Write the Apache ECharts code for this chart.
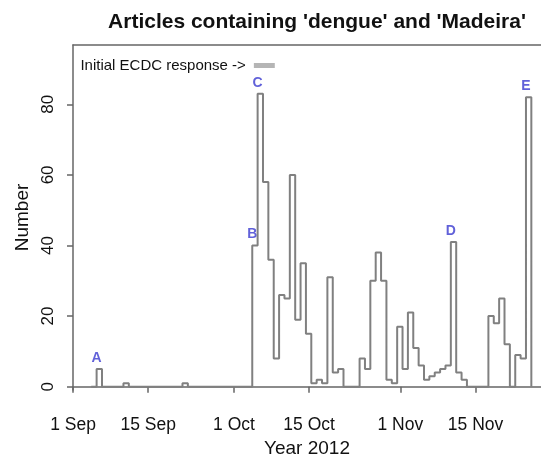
<!DOCTYPE html>
<html>
<head>
<meta charset="utf-8">
<script src="https://cdn.jsdelivr.net/npm/echarts@6/dist/echarts.min.js"></script>
<style>
  html, body { margin: 0; padding: 0; background: #fff; }
  #main { width: 541px; height: 463px; }
</style>
</head>
<body>
<div id="main"></div>
<script>
// daily article counts, first entry is 4 Sep 2012 (day 3 after 1 Sep)
const firstDay = 3;
const dayShift = 0.4;
const counts = [
  0, 5, 0, 0, 0, 0, 1, 0,
  0, 0, 0, 0, 0, 0, 0, 0, 0,
  1, 0,
  0, 0, 0, 0, 0, 0, 0, 0, 0, 0, 0,
  40, 83, 58, 36, 8, 26, 25, 60, 19, 35, 15,
  1, 2, 1, 31, 4, 5, 0, 0, 0,
  8, 5, 30, 38, 30, 2, 1, 17, 5, 21, 11, 6,
  2, 3, 4, 5, 6, 41, 4, 2, 0, 0, 0, 0,
  20, 18, 25, 12, 0, 9, 8, 82, 0
];

// x tick positions (days after 1 Sep) and their labels
const tickDays = [0, 14, 30, 44, 61, 75];
const tickLabels = ['1 Sep', '15 Sep', '1 Oct', '15 Oct', '1 Nov', '15 Nov'];
const yTicks = [0, 20, 40, 60, 80];

// annotated events: day index, letter
const eventDays = [4, 33, 34, 70, 84];
const eventNames = ['A', 'B', 'C', 'D', 'E'];

// initial ECDC response bar
const ecdcDays = [33.7, 37.6];
const ecdcLevel = 91;

const series = counts.map(function (v, i) { return [firstDay + i + dayShift, v]; });
const events = eventDays.map(function (d, i) {
  return { value: [d + dayShift, counts[d - firstDay]], name: eventNames[i] };
});

const axisGray = '#666';
const font = 'Liberation Sans, Arial, sans-serif';

let chart = echarts.init(document.getElementById('main'));
let option = {
  animation: false,
  title: {
    text: "Articles containing 'dengue' and 'Madeira'",
    left: 312,
    top: 7,
    textAlign: 'center',
    textStyle: { fontFamily: font, fontSize: 21, fontWeight: 'bold', color: '#111' }
  },
  grid: { left: 73, right: -3, top: 45, bottom: 73 },
  xAxis: [
    {
      type: 'value',
      min: 0,
      max: 87.2,
      offset: 10,
      name: 'Year 2012',
      nameLocation: 'middle',
      nameGap: 37,
      nameTextStyle: { fontFamily: font, fontSize: 19, color: '#111' },
      splitLine: { show: false },
      axisLine: { show: true, lineStyle: { color: axisGray, width: 1.5 } },
      axisTick: { show: true, length: 6, customValues: tickDays, lineStyle: { color: axisGray, width: 1.5 } },
      axisLabel: {
        customValues: tickDays,
        margin: 16,
        fontFamily: font,
        fontSize: 17.5,
        color: '#111',
        formatter: function (v) { return tickLabels[tickDays.indexOf(v)]; }
      }
    },
    {
      type: 'value',
      position: 'top',
      min: 0,
      max: 87.2,
      splitLine: { show: false },
      axisLine: { show: true, lineStyle: { color: axisGray, width: 1.5 } },
      axisTick: { show: false },
      axisLabel: { show: false }
    }
  ],
  yAxis: {
    type: 'value',
    min: -0.93,
    max: 96.8,
    name: 'Number',
    nameLocation: 'middle',
    nameGap: 40,
    nameTextStyle: { fontFamily: font, fontSize: 19, color: '#111' },
    splitLine: { show: false },
    axisLine: { show: true, lineStyle: { color: axisGray, width: 1.5 } },
    axisTick: { show: true, length: 6, customValues: yTicks, lineStyle: { color: axisGray, width: 1.5 } },
    axisLabel: {
      customValues: yTicks,
      rotate: 90,
      margin: 16,
      fontFamily: font,
      fontSize: 17,
      color: '#111'
    }
  },
  series: [
    {
      name: 'Articles',
      type: 'line',
      step: 'end',
      data: series,
      symbol: 'none',
      lineStyle: { color: '#808080', width: 2 }
    },
    {
      name: 'ECDC',
      type: 'line',
      data: [
        { value: [ecdcDays[0], ecdcLevel], label: { show: true } },
        [ecdcDays[1], ecdcLevel]
      ],
      symbol: 'circle',
      symbolSize: 0,
      showSymbol: true,
      lineStyle: { color: '#b5b5b5', width: 5 },
      label: {
        show: false,
        position: 'left',
        distance: 8,
        formatter: 'Initial ECDC response ->',
        fontFamily: font,
        fontSize: 15,
        color: '#111'
      }
    },
    {
      name: 'Events',
      type: 'scatter',
      data: events,
      symbolSize: 0,
      label: {
        show: true,
        position: 'top',
        distance: 4,
        formatter: '{b}',
        fontFamily: font,
        fontSize: 14,
        fontWeight: 'bold',
        color: '#3a3ad0'
      }
    }
  ]
};
chart.setOption(option);
window.addEventListener('resize', chart.resize);
</script>
</body>
</html>
